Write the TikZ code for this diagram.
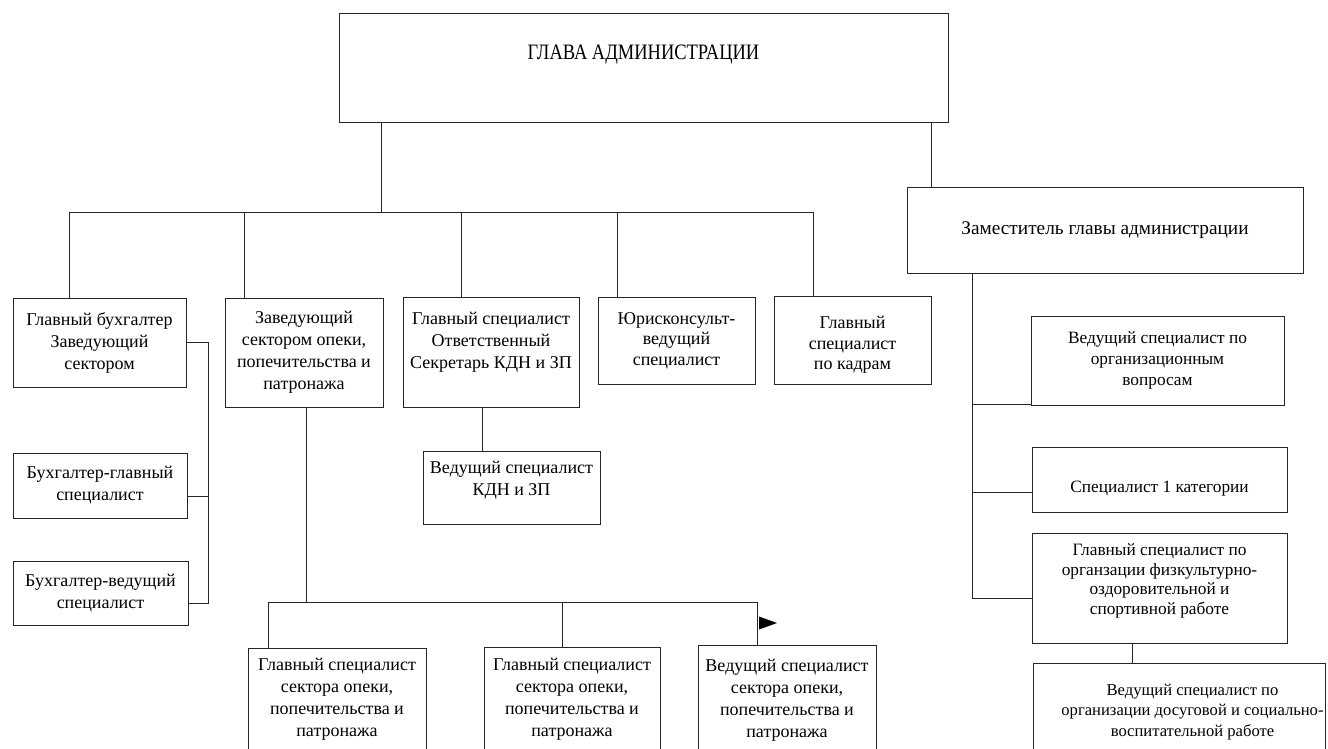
\documentclass[tikz,border=0pt]{standalone}
\usepackage{fontspec}
\setmainfont{Liberation Serif}
\newcommand\xdn[1]{\rule[-#1]{0pt}{#1}}
\newcommand\xup[1]{\rule{0pt}{#1}}
\tikzset{
  bx/.style={draw=black!85, line width=1pt, align=center, inner sep=0pt,
    font=\fontsize{18}{22}\selectfont},
  rbx/.style={bx, font=\fontsize{17.3}{21}\selectfont},
  big/.style={font=\fontsize{19.3}{23}\selectfont},
  ln/.style={draw=black!85, line width=1pt},
}
\begin{document}
\begin{tikzpicture}[x=1pt,y=-1pt]
\useasboundingbox (0,0) rectangle (1328,749);
\fill[white] (0,0) rectangle (1328,749);
\clip (0,0) rectangle (1328,749);

% top
\node[bx,minimum width=609pt,minimum height=109pt,font=\fontsize{22}{26}\selectfont] (top) at (643.5,68.5) {\scalebox{0.84}[1]{ГЛАВА АДМИНИСТРАЦИИ}\xdn{33pt}};

% level 2
\node[bx,minimum width=173pt,minimum height=89pt] (A) at (99.5,342.5) {Главный бухгалтер\\Заведующий\\сектором};
\node[bx,minimum width=158pt,minimum height=109pt] (B) at (304,352.5) {Заведующий\\сектором опеки,\\попечительства и\\патронажа};
\node[bx,minimum width=176pt,minimum height=110pt] (C) at (491,352) {Главный специалист\\Ответственный\\Секретарь КДН и ЗП\xdn{24pt}};
\node[bx,minimum width=157pt,minimum height=87pt,font=\fontsize{18}{20.5}\selectfont] (D) at (676.5,340.5) {Юрисконсульт-\\ведущий\\специалист};
\node[bx,minimum width=157pt,minimum height=88pt,font=\fontsize{18}{20.5}\selectfont] (E) at (852.5,340) {\xup{22pt}Главный\\специалист\\по кадрам};

% left column
\node[bx,minimum width=174pt,minimum height=65pt] (A2) at (100,485.5) {Бухгалтер-главный\\специалист};
\node[bx,minimum width=175pt,minimum height=64pt] (A3) at (100.5,593) {Бухгалтер-ведущий\\специалист};

% under C
\node[bx,minimum width=177pt,minimum height=73pt] (C2) at (511.5,487.5) {Ведущий специалист\\КДН и ЗП\xdn{18pt}};

% bottom row
\node[bx,minimum width=178pt,minimum height=122pt] (L1) at (337,709) {Главный специалист\\сектора опеки,\\попечительства и\\патронажа\xdn{23pt}};
\node[bx,minimum width=176pt,minimum height=123pt] (L2) at (572,708.5) {Главный специалист\\сектора опеки,\\попечительства и\\патронажа\xdn{23pt}};
\node[bx,minimum width=178pt,minimum height=125pt] (L3) at (787,707.5) {Ведущий специалист\\сектора опеки,\\попечительства и\\патронажа\xdn{19pt}};

% right column
\node[bx,big,minimum width=396pt,minimum height=86pt] (dep) at (1105,230) {Заместитель главы администрации};
\node[rbx,minimum width=253pt,minimum height=89pt] (R1) at (1157.5,360.5) {Ведущий специалист по\\организационным\\вопросам};
\node[rbx,minimum width=255pt,minimum height=65pt] (R2) at (1159.5,479.5) {\xup{30pt}Специалист 1 категории};
\node[rbx,minimum width=255pt,minimum height=110pt,font=\fontsize{17.3}{19.8}\selectfont] (R3) at (1159.5,588) {Главный специалист по\\органзации физкультурно-\\оздоровительной и\\спортивной работе\xdn{18pt}};
\node[rbx,minimum width=292pt,minimum height=107pt,font=\fontsize{16.6}{20.5}\selectfont] (R4) at (1179,716.5) {\hspace*{27pt}Ведущий специалист по\\\hspace*{27pt}организации досуговой и социально-\\\hspace*{27pt}воспитательной работе\xdn{13pt}};

% junction coordinates
\coordinate (jT) at (381,212);
\coordinate (jDep) at (931,0);
\coordinate (jA) at (69,212);
\coordinate (jB) at (244,212);
\coordinate (jC) at (461,212);
\coordinate (jD) at (617,212);
\coordinate (jE) at (813,212);
\coordinate (lt) at (208,342.5);
\coordinate (lm) at (208,496);
\coordinate (lb) at (208,603);
\coordinate (jCC) at (482,0);
\coordinate (jBB) at (306,602);
\coordinate (jL1) at (268,602);
\coordinate (jL2) at (562,602);
\coordinate (jL3) at (757,602);
\coordinate (tip) at (759,623);
\coordinate (rt) at (972,0);
\coordinate (r1) at (972,404);
\coordinate (r2) at (972,492);
\coordinate (r3) at (972,598);
\coordinate (jR4) at (1132,0);

% connectors from top
\draw[ln] (top.south -| jT) -- (jT);
\draw[ln] (jA) -- (jE);
\draw[ln] (jA) -- (jA |- A.north);
\draw[ln] (jB) -- (jB |- B.north);
\draw[ln] (jC) -- (jC |- C.north);
\draw[ln] (jD) -- (jD |- D.north);
\draw[ln] (jE) -- (jE |- E.north);
\draw[ln] (top.south -| jDep) -- (dep.north -| jDep);

% left column
\draw[ln] (A.east) -- (lt) -- (lb) -- (lb -| A3.east);
\draw[ln] (lm) -- (lm -| A2.east);

% C to C2
\draw[ln] (C.south -| jCC) -- (C2.north -| jCC);

% B to bottom row
\draw[ln] (B.south -| jBB) -- (jBB);
\draw[ln] (jL1) -- (jL3);
\draw[ln] (jL1) -- (jL1 |- L1.north);
\draw[ln] (jL2) -- (jL2 |- L2.north);
\draw[ln] (jL3) -- (jL3 |- L3.north);
\fill[black] (tip) -- ++(0,-6.5) -- ++(18,6.5) -- ++(-18,6.5) -- cycle;

% right column
\draw[ln] (dep.south -| rt) -- (r3);
\draw[ln] (r1) -- (r1 -| R1.west);
\draw[ln] (r2) -- (r2 -| R2.west);
\draw[ln] (r3) -- (r3 -| R3.west);
\draw[ln] (R3.south -| jR4) -- (R4.north -| jR4);
\end{tikzpicture}
\end{document}
